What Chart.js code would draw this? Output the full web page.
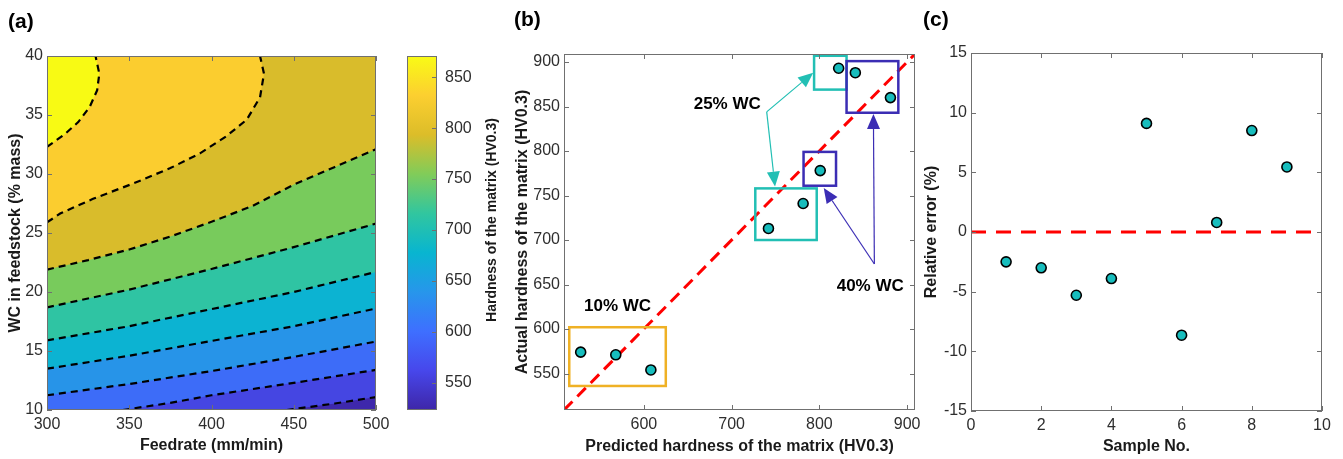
<!DOCTYPE html>
<html>
<head>
<meta charset="utf-8">
<script src="https://cdn.jsdelivr.net/npm/chart.js@4/dist/chart.umd.min.js"></script>
<style>
  body { margin: 0; background: #fff; width: 1343px; height: 459px; overflow: hidden; position: relative; font-family: "Liberation Sans", Arial, sans-serif; }
  canvas { position: absolute; left: 0; top: 0; }
  .tag { position: absolute; font-weight: bold; font-size: 21px; line-height: 1; color: #000; }
</style>
</head>
<body>
<canvas id="chartA" width="1343" height="459"></canvas>
<canvas id="chartBar" width="1343" height="459"></canvas>
<canvas id="chartB" width="1343" height="459"></canvas>
<canvas id="chartC" width="1343" height="459"></canvas>
<div class="tag" style="left:8px;top:10px">(a)</div>
<div class="tag" style="left:514px;top:8px">(b)</div>
<div class="tag" style="left:923px;top:8px">(c)</div>
<script>
// ---- (a) contour map: feedrate (mm/min) vs WC (% mass)
const feedRange = [300, 500];
const wcRange = [10, 40];
const feedTicks = [300, 350, 400, 450, 500];
const wcTicks = [10, 15, 20, 25, 30, 35, 40];
// contour lines, lowest level first, as [feedrate, WC]
const contour1 = [[445.7, 10], [475, 10.55], [500, 11.1]];
const contour2 = [[346, 10], [375, 10.6], [400, 11.25], [450, 12.3], [500, 13.4]];
const contour3 = [[300, 11.25], [350, 12.2], [400, 13.3], [450, 14.5], [500, 15.8]];
const contour4 = [[300, 13.5], [350, 14.6], [400, 15.85], [450, 17.1], [500, 18.6]];
const contour5 = [[300, 15.9], [350, 17.1], [400, 18.55], [450, 20.0], [500, 21.7]];
const contour6 = [[300, 18.7], [350, 20.2], [400, 21.95], [450, 23.8], [500, 25.8]];
const contour7 = [[300, 21.9], [325, 22.7], [350, 23.6], [375, 24.7], [400, 25.95], [425, 27.3], [450, 29.1], [475, 30.6], [500, 32.1]];
const contour8 = [[300, 25.9], [308, 26.65], [328, 27.9], [352.5, 29.2], [375, 30.5], [393, 31.75], [409, 33.2], [421.4, 34.6], [429.5, 36.5], [431.9, 38.5], [429.5, 40]];
const contour9 = [[300, 32.3], [311, 33.4], [319, 34.4], [326, 35.7], [330.5, 37.1], [331.8, 38.5], [329.5, 40]];
const bandColors = ['#3e28ab', '#4546e2', '#3d6cf8', '#2794e8', '#0cb3d2', '#2fc4a3', '#78cb5c', '#d9bc2b', '#fbcd2f', '#f8fa14'];

// colorbar
const cbRange = [523, 871];
const cbTicks = [550, 600, 650, 700, 750, 800, 850];
const parula = ['#3e26a8', '#4747eb', '#3e6fff', '#2796eb', '#08b5d0', '#31c69f', '#81cc59', '#dcbd29', '#fccf30', '#f9fb15'];

// ---- (b) predicted vs actual hardness
const predicted = [528, 568, 608, 742, 781.5, 801, 822, 841, 881];
const actual = [574, 571, 554, 713, 741, 778, 893, 888, 860];
const hvRange = [509, 909];
const hvTicksX = [600, 700, 800, 900];
const hvTicksY = [550, 600, 650, 700, 750, 800, 850, 900];
const parityLine = [[509, 509], [909, 909]];
const groupBoxes = [[515, 625, 536, 602], [727, 797, 700, 758], [794, 831, 869, 907], [782, 819, 761, 799], [831, 890, 843, 901]];
const groupNames = ['10% WC', '25% WC', '40% WC'];
const groupLabelAt = [[570, 626], [695, 852], [858, 648]];
const groupArrows = [[740, 844, 793, 888], [740, 844, 749.5, 760], [862.7, 673, 805, 758.4], [862.7, 673, 861.6, 841.5]];

// ---- (c) relative error
const sampleNo = [1, 2, 3, 4, 5, 6, 7, 8, 9];
const relError = [-2.5, -3.0, -5.3, -3.9, 9.1, -8.65, 0.8, 8.5, 5.45];
const sampleTicks = [0, 2, 4, 6, 8, 10];
const errTicks = [-15, -10, -5, 0, 5, 10, 15];
const zeroLine = [[0, 0], [10, 0]];

Chart.defaults.font.family = '"Liberation Sans", Arial, sans-serif';
Chart.defaults.animation = false;
const ink = '#2e2e2e';
const pts = arr => arr.map(([x, y]) => ({x, y}));

function axis(min, max, ticks, title, fit, horizontal, extra) {
  return Object.assign({
    type: 'linear', min, max,
    afterBuildTicks: s => { s.ticks = ticks.map(v => ({value: v})); },
    afterFit: s => { if (horizontal) s.height = fit; else s.width = fit; },
    ticks: {font: {size: 16}, color: ink, padding: horizontal ? 5 : 4, autoSkip: false, maxRotation: 0, minRotation: 0},
    grid: {display: false, drawTicks: false},
    border: {display: false},
    title: {display: !!title, text: title, font: {size: 16, weight: 'bold'}, color: '#1a1a1a', padding: 2}
  }, extra || {});
}

// box round the plot with inward ticks, like the original
const frame = {
  id: 'frame',
  afterDraw(chart, args, o) {
    const {ctx, chartArea: a} = chart;
    const L = 5;
    ctx.save();
    ctx.strokeStyle = '#707070';
    ctx.lineWidth = 1;
    ctx.strokeRect(a.left + 0.5, a.top + 0.5, a.width - 1, a.height - 1);
    ctx.beginPath();
    (o.x || []).forEach(v => {
      const p = Math.round(chart.scales.x.getPixelForValue(v)) + 0.5;
      ctx.moveTo(p, a.bottom); ctx.lineTo(p, a.bottom - L);
      ctx.moveTo(p, a.top); ctx.lineTo(p, a.top + L);
    });
    (o.y || []).forEach(v => {
      const p = Math.round(chart.scales.y.getPixelForValue(v)) + 0.5;
      if (!o.rightOnly) { ctx.moveTo(a.left, p); ctx.lineTo(a.left + L, p); }
      ctx.moveTo(a.right, p); ctx.lineTo(a.right - L, p);
    });
    ctx.stroke();
    ctx.restore();
  }
};

// ---- chart (a)
const contours = [contour1, contour2, contour3, contour4, contour5, contour6, contour7, contour8, contour9];
function highSide(line) {
  const out = line.slice();
  const [sx, sy] = line[0];
  const [ex] = line[line.length - 1];
  if (ex === feedRange[1]) out.push([feedRange[1], wcRange[1]]);
  out.push([feedRange[0], wcRange[1]]);
  if (sy === wcRange[0] && sx > feedRange[0]) out.push([feedRange[0], wcRange[0]]);
  return out;
}
const plotCorners = [[feedRange[0], wcRange[0]], [feedRange[1], wcRange[0]], [feedRange[1], wcRange[1]], [feedRange[0], wcRange[1]]];
const dsA = [{data: pts(plotCorners), backgroundColor: bandColors[0], borderColor: 'rgba(0,0,0,0)', borderWidth: 0, pointRadius: 0, fill: 'shape', order: 60}];
contours.forEach((c, k) => {
  dsA.push({data: pts(highSide(c)), backgroundColor: bandColors[k + 1], borderColor: 'rgba(0,0,0,0)', borderWidth: 0, pointRadius: 0, fill: 'shape', order: 50 - k});
  dsA.push({data: pts(c), borderColor: '#000', borderWidth: 2.2, borderDash: [7, 5], pointRadius: 0, fill: false, order: 1});
});
new Chart(document.getElementById('chartA'), {
  type: 'line',
  data: {datasets: dsA},
  options: {
    responsive: false,
    layout: {padding: {left: 4, right: 967, top: 56, bottom: 2}},
    plugins: {legend: {display: false}, tooltip: {enabled: false}, frame: {x: feedTicks, y: wcTicks}},
    scales: {
      x: axis(feedRange[0], feedRange[1], feedTicks, 'Feedrate (mm/min)', 47, true),
      y: axis(wcRange[0], wcRange[1], wcTicks, 'WC in feedstock (% mass)', 43, false)
    }
  },
  plugins: [frame]
});

// ---- colorbar
const cbTitle = {
  id: 'cbTitle',
  afterDraw(chart) {
    const {ctx, chartArea: a} = chart;
    ctx.save();
    ctx.translate(a.right + 55, (a.top + a.bottom) / 2 - 13);
    ctx.rotate(-Math.PI / 2);
    ctx.font = 'bold 14px "Liberation Sans", Arial, sans-serif';
    ctx.fillStyle = '#1a1a1a';
    ctx.textAlign = 'center';
    ctx.textBaseline = 'middle';
    ctx.fillText('Hardness of the matrix (HV0.3)', 0, 0);
    ctx.restore();
  }
};
const cbAxis = axis(cbRange[0], cbRange[1], cbTicks, '', 60, false, {position: 'right'});
cbAxis.ticks.padding = 8;
new Chart(document.getElementById('chartBar'), {
  type: 'bar',
  data: {
    labels: [''],
    datasets: [{
      data: [cbRange],
      barPercentage: 1, categoryPercentage: 1, borderWidth: 0,
      backgroundColor: ctx => {
        const a = ctx.chart.chartArea;
        if (!a) return parula[0];
        const g = ctx.chart.ctx.createLinearGradient(0, a.bottom, 0, a.top);
        parula.forEach((c, i) => g.addColorStop(i / (parula.length - 1), c));
        return g;
      }
    }]
  },
  options: {
    responsive: false,
    layout: {padding: {left: 407, right: 846, top: 56, bottom: 49}},
    plugins: {legend: {display: false}, tooltip: {enabled: false}, frame: {y: cbTicks, rightOnly: true}},
    scales: {
      x: {display: false},
      y: cbAxis
    }
  },
  plugins: [frame, cbTitle]
});

// ---- chart (b)
const groups = {
  id: 'groups',
  afterDatasetsDraw(chart, args, o) {
    const {ctx, scales: {x, y}} = chart;
    ctx.save();
    ctx.lineWidth = 2.5;
    groupBoxes.forEach(([x0, x1, y0, y1], i) => {
      ctx.strokeStyle = o.boxColors[i];
      const l = x.getPixelForValue(x0), r = x.getPixelForValue(x1);
      const t = y.getPixelForValue(y1), b = y.getPixelForValue(y0);
      ctx.strokeRect(l, t, r - l, b - t);
    });
    groupArrows.forEach(([fx, fy, tx, ty], i) => {
      const c = o.arrowColors[i];
      const x0 = x.getPixelForValue(fx), y0 = y.getPixelForValue(fy);
      const x1 = x.getPixelForValue(tx), y1 = y.getPixelForValue(ty);
      const ang = Math.atan2(y1 - y0, x1 - x0);
      const hl = 15, hw = 6.5;
      const bx = x1 - hl * Math.cos(ang), by = y1 - hl * Math.sin(ang);
      ctx.strokeStyle = c;
      ctx.lineWidth = 1.2;
      ctx.beginPath(); ctx.moveTo(x0, y0); ctx.lineTo(bx, by); ctx.stroke();
      ctx.fillStyle = c;
      ctx.beginPath();
      ctx.moveTo(x1, y1);
      ctx.lineTo(bx + hw * Math.sin(ang), by - hw * Math.cos(ang));
      ctx.lineTo(bx - hw * Math.sin(ang), by + hw * Math.cos(ang));
      ctx.closePath(); ctx.fill();
    });
    ctx.font = 'bold 17px "Liberation Sans", Arial, sans-serif';
    ctx.fillStyle = '#000';
    ctx.textAlign = 'center';
    ctx.textBaseline = 'middle';
    groupNames.forEach((t, i) => ctx.fillText(t, x.getPixelForValue(groupLabelAt[i][0]), y.getPixelForValue(groupLabelAt[i][1])));
    ctx.restore();
  }
};
new Chart(document.getElementById('chartB'), {
  type: 'line',
  data: {
    datasets: [
      {data: predicted.map((p, i) => ({x: p, y: actual[i]})), showLine: false, pointRadius: 5, pointBackgroundColor: '#17bdbd', pointBorderColor: '#000', pointBorderWidth: 1.6, order: 0},
      {data: pts(parityLine), borderColor: '#ff0000', borderWidth: 3, borderDash: [12, 7], pointRadius: 0, fill: false, order: 2}
    ]
  },
  options: {
    responsive: false,
    layout: {padding: {left: 511, right: 428, top: 54, bottom: 1}},
    plugins: {
      legend: {display: false}, tooltip: {enabled: false},
      frame: {x: hvTicksX, y: hvTicksY},
      groups: {
        boxColors: ['#efb125', '#22bfb4', '#22bfb4', '#3b2db4', '#3b2db4'],
        arrowColors: ['#22bfb4', '#22bfb4', '#3b2db4', '#3b2db4']
      }
    },
    scales: {
      x: axis(hvRange[0], hvRange[1], hvTicksX, 'Predicted hardness of the matrix (HV0.3)', 48, true),
      y: axis(hvRange[0], hvRange[1], hvTicksY, 'Actual hardness of the matrix (HV0.3)', 53, false)
    }
  },
  plugins: [frame, groups]
});

// ---- chart (c)
new Chart(document.getElementById('chartC'), {
  type: 'line',
  data: {
    datasets: [
      {data: sampleNo.map((s, i) => ({x: s, y: relError[i]})), showLine: false, pointRadius: 5, pointBackgroundColor: '#17bdbd', pointBorderColor: '#000', pointBorderWidth: 1.6, order: 0},
      {data: pts(zeroLine), borderColor: '#ff0000', borderWidth: 3, borderDash: [15, 10], pointRadius: 0, fill: false, order: 2}
    ]
  },
  options: {
    responsive: false,
    layout: {padding: {left: 920, right: 21, top: 53, bottom: 1}},
    plugins: {legend: {display: false}, tooltip: {enabled: false}, frame: {x: sampleTicks, y: errTicks}},
    scales: {
      x: axis(0, 10, sampleTicks, 'Sample No.', 47, true),
      y: axis(-15, 15, errTicks, 'Relative error (%)', 51, false)
    }
  },
  plugins: [frame]
});
</script>
</body>
</html>
